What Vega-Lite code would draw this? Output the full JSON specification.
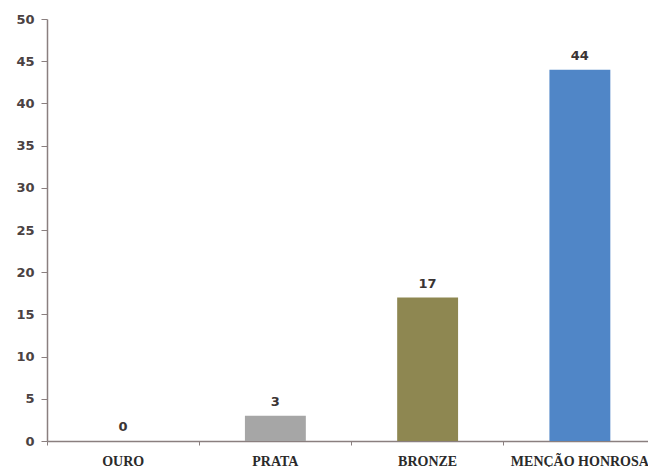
{
  "$schema": "https://vega.github.io/schema/vega-lite/v6.json",
  "width": 609,
  "height": 422,
  "autosize": {"type": "none"},
  "padding": {"left": 47, "top": 19, "right": 0, "bottom": 26},
  "background": "white",
  "config": {"view": {"stroke": null}},
  "data": {"values": [
    {"categoria": "OURO", "valor": 0, "cor": "#a6a6a6"},
    {"categoria": "PRATA", "valor": 3, "cor": "#a6a6a6"},
    {"categoria": "BRONZE", "valor": 17, "cor": "#8e8751"},
    {"categoria": "MENÇÃO HONROSA", "valor": 44, "cor": "#5086c7"}
  ]},
  "encoding": {
    "x": {
      "field": "categoria", "type": "nominal", "sort": null,
      "scale": {"paddingInner": 0, "paddingOuter": 0},
      "axis": {
        "title": null, "labelAngle": 0, "bandPosition": 0,
        "domainColor": "#8a7f7f", "domainWidth": 1.5,
        "tickColor": "#8a7f7f", "tickSize": 4,
        "labelFont": "Liberation Serif", "labelFontWeight": "bold", "labelFontSize": 14,
        "labelColor": "#2a2a2a", "labelPadding": 9
      }
    },
    "y": {
      "field": "valor", "type": "quantitative",
      "scale": {"domain": [0, 50]},
      "axis": {
        "title": null, "grid": false, "values": [0,5,10,15,20,25,30,35,40,45,50],
        "domainColor": "#8a7f7f", "domainWidth": 1.5,
        "tickColor": "#8a7f7f", "tickSize": 6,
        "labelFont": "DejaVu Sans", "labelFontWeight": "bold", "labelFontSize": 13,
        "labelColor": "#4a4242", "labelPadding": 7
      }
    }
  },
  "layer": [
    {
      "mark": {"type": "bar", "width": {"band": 0.4}},
      "encoding": {"color": {"field": "cor", "type": "nominal", "scale": null}}
    },
    {
      "mark": {"type": "text", "baseline": "bottom", "dy": -7, "font": "DejaVu Sans", "fontWeight": "bold", "fontSize": 13, "color": "#3a3434"},
      "encoding": {"text": {"field": "valor", "type": "quantitative"}}
    }
  ]
}
